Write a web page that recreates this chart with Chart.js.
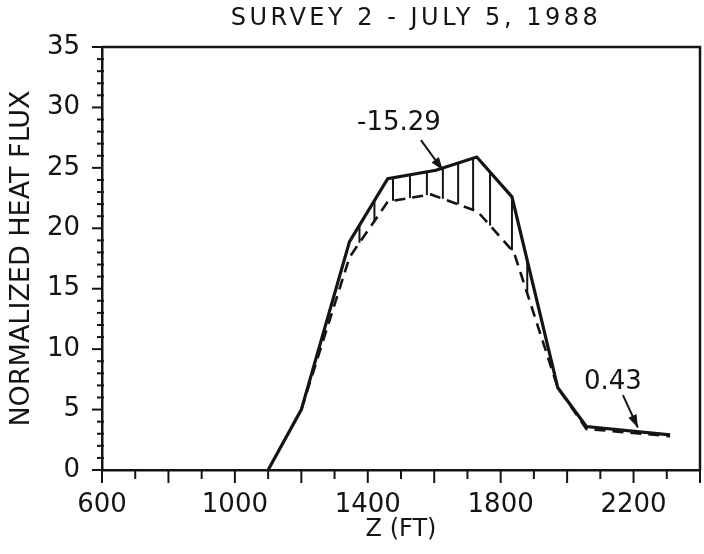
<!DOCTYPE html>
<html>
<head>
<meta charset="utf-8">
<script src="https://cdn.jsdelivr.net/npm/chart.js@4.4.1/dist/chart.umd.min.js"></script>
<style>
  html, body { margin: 0; padding: 0; background: #fff; }
  #wrap { width: 704px; height: 554px; }
</style>
</head>
<body>
<div id="wrap"><canvas id="chart" width="704" height="554"></canvas></div>
<script>
// Survey 2 — normalized heat flux vs depth

const chartTitle = 'SURVEY 2 - JULY 5, 1988';

// curva cheia
const solidZ = [1100, 1200, 1345, 1460, 1605, 1728, 1834, 1972, 2058, 2310];
const solidFlux = [0, 5.0, 18.9, 24.1, 24.8, 25.9, 22.6, 6.8, 3.6, 2.9];

// curva tracejada
const dashedZ = [1200, 1345, 1460, 1590, 1730, 1840, 1972, 2058, 2310];
const dashedFlux = [5.0, 17.6, 22.2, 22.8, 21.4, 18.0, 6.8, 3.4, 2.8];

// hachuras entre as curvas
const hatchZ = [1375, 1420, 1476, 1527, 1578, 1626, 1672, 1717, 1768, 1834, 1880];

// eixos
const xTickLabels = [600, 1000, 1400, 1800, 2200];
const yTickLabels = [0, 5, 10, 15, 20, 25, 30, 35];

// anotações
const noteText = ['-15.29', '0.43'];
const noteZ = [1494, 2138];
const noteFlux = [28.7, 7.3];
const arrowFromZ = [1560, 2168];
const arrowFromFlux = [27.3, 6.2];
const arrowToZ = [1626, 2213];
const arrowToFlux = [24.8, 3.5];

const INK = '#141414';
const FONT = 'DejaVu Sans';

function interp(xs, ys, x) {
  for (let i = 0; i < xs.length - 1; i++) {
    if (x >= xs[i] && x <= xs[i + 1]) {
      const t = (x - xs[i]) / (xs[i + 1] - xs[i]);
      return ys[i] + t * (ys[i + 1] - ys[i]);
    }
  }
  return null;
}

const plotterPlugin = {
  id: 'plotter',
  afterDraw(chart) {
    const { ctx, chartArea: a, scales: { x, y } } = chart;
    ctx.save();
    ctx.strokeStyle = INK;
    ctx.fillStyle = INK;
    ctx.lineCap = 'butt';

    // moldura topo / direita
    ctx.lineWidth = 2.5;
    ctx.beginPath();
    ctx.moveTo(a.left, a.top);
    ctx.lineTo(a.right, a.top);
    ctx.lineTo(a.right, a.bottom);
    ctx.stroke();

    // ticks x
    ctx.lineWidth = 2;
    for (let v = 600; v <= 2400; v += 100) {
      const px = x.getPixelForValue(v);
      const len = v % 200 === 0 ? 13 : 9;
      ctx.beginPath();
      ctx.moveTo(px, a.bottom);
      ctx.lineTo(px, a.bottom + len);
      ctx.stroke();
    }
    // ticks y
    for (let v = 0; v <= 35; v++) {
      const py = y.getPixelForValue(v);
      const major = v % 5 === 0;
      ctx.beginPath();
      ctx.moveTo(a.left - (major ? 10 : 5), py);
      ctx.lineTo(a.left + (major ? 0 : 2), py);
      ctx.stroke();
    }

    // hachuras
    ctx.lineWidth = 2;
    hatchZ.forEach(z => {
      const top = interp(solidZ, solidFlux, z);
      const bot = interp(dashedZ, dashedFlux, z);
      if (top === null || bot === null) return;
      const px = x.getPixelForValue(z);
      ctx.beginPath();
      ctx.moveTo(px, y.getPixelForValue(top));
      ctx.lineTo(px, y.getPixelForValue(bot));
      ctx.stroke();
    });

    // setas + textos
    noteText.forEach((t, i) => {
      const x1 = x.getPixelForValue(arrowFromZ[i]), y1 = y.getPixelForValue(arrowFromFlux[i]);
      const x2 = x.getPixelForValue(arrowToZ[i]), y2 = y.getPixelForValue(arrowToFlux[i]);
      ctx.lineWidth = 2;
      ctx.beginPath();
      ctx.moveTo(x1, y1);
      ctx.lineTo(x2, y2);
      ctx.stroke();
      const ang = Math.atan2(y2 - y1, x2 - x1);
      ctx.beginPath();
      ctx.moveTo(x2, y2);
      ctx.lineTo(x2 - 13 * Math.cos(ang) + 4.5 * Math.sin(ang), y2 - 13 * Math.sin(ang) - 4.5 * Math.cos(ang));
      ctx.lineTo(x2 - 13 * Math.cos(ang) - 4.5 * Math.sin(ang), y2 - 13 * Math.sin(ang) + 4.5 * Math.cos(ang));
      ctx.closePath();
      ctx.fill();

      ctx.font = `26px "${FONT}"`;
      ctx.textAlign = 'center';
      ctx.textBaseline = 'middle';
      ctx.fillText(t, x.getPixelForValue(noteZ[i]), y.getPixelForValue(noteFlux[i]));
    });

    // título
    ctx.font = `24px "${FONT}"`;
    ctx.letterSpacing = '3.5px';
    ctx.textAlign = 'center';
    ctx.textBaseline = 'middle';
    ctx.fillText(chartTitle, 416, 19);
    ctx.restore();
  }
};

new Chart(document.getElementById('chart'), {
  type: 'scatter',
  data: {
    datasets: [
      {
        data: solidZ.map((z, i) => ({ x: z, y: solidFlux[i] })),
        showLine: true, borderColor: INK, borderWidth: 3.2, pointRadius: 0, tension: 0
      },
      {
        data: dashedZ.map((z, i) => ({ x: z, y: dashedFlux[i] })),
        showLine: true, borderColor: INK, borderWidth: 2.6, borderDash: [11, 7], pointRadius: 0, tension: 0
      }
    ]
  },
  options: {
    responsive: false,
    animation: false,
    layout: { padding: { top: 47, right: 4, left: 0, bottom: 0 } },
    plugins: { legend: { display: false }, tooltip: { enabled: false } },
    scales: {
      x: {
        type: 'linear', min: 600, max: 2400,
        afterBuildTicks: s => { s.ticks = xTickLabels.map(v => ({ value: v })); },
        afterFit: s => { s.height = 84; },
        grid: { display: false },
        border: { display: true, color: INK, width: 2.5 },
        ticks: { color: INK, font: { family: FONT, size: 26 }, padding: 12, maxRotation: 0, autoSkip: false, callback: v => String(v) },
        title: { display: true, text: 'Z (FT)', color: INK, font: { family: FONT, size: 24 }, padding: { top: 0, bottom: 10 } }
      },
      y: {
        min: 0, max: 35,
        afterBuildTicks: s => { s.ticks = yTickLabels.map(v => ({ value: v })); },
        afterFit: s => { s.width = 102; },
        grid: { display: false },
        border: { display: true, color: INK, width: 2.5 },
        ticks: { color: INK, font: { family: FONT, size: 26 }, padding: 14, callback: v => String(v) },
        title: { display: true, text: 'NORMALIZED HEAT FLUX', color: INK, font: { family: FONT, size: 27 }, padding: { top: 6, bottom: 0 } }
      }
    }
  },
  plugins: [plotterPlugin]
});
</script>
</body>
</html>
